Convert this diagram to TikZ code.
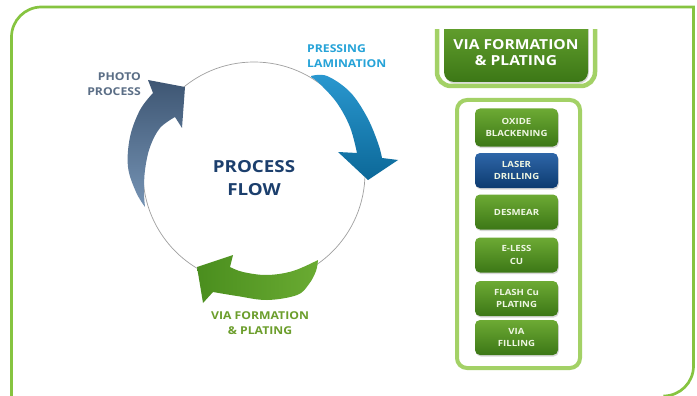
\documentclass[tikz,border=0pt]{standalone}
\usepackage{fontspec}
\setmainfont{Open Sans}[FakeStretch=1.13]
\usetikzlibrary{shadows}
\definecolor{framegreen}{HTML}{86C440}
\definecolor{panelgreen}{HTML}{A3D166}
\definecolor{boxtop}{HTML}{6DAA34}
\definecolor{boxbot}{HTML}{3C7716}
\definecolor{bluetop}{HTML}{2E66A8}
\definecolor{bluebot}{HTML}{0D3B70}
\definecolor{boxtext}{HTML}{EEF6E2}
\definecolor{navy}{HTML}{1C3F6D}
\definecolor{photocol}{HTML}{5B6E86}
\definecolor{presscol}{HTML}{26A3D8}
\definecolor{viacol}{HTML}{6C9E2C}
\definecolor{photoA}{HTML}{3E5673}
\definecolor{photoB}{HTML}{7593B4}
\definecolor{pressA}{HTML}{2A98D0}
\definecolor{pressB}{HTML}{0C6898}
\definecolor{greenA}{HTML}{4A8E1E}
\definecolor{greenB}{HTML}{6AAB32}
\tikzset{
  gbox/.style={rounded corners=5pt, minimum width=83pt, minimum height=35pt,
    top color=boxtop, bottom color=boxbot, text=boxtext, align=center, inner sep=0pt,
    font=\bfseries\fontsize{8.5}{12.5}\selectfont,
    drop shadow={opacity=0.3, shadow xshift=0.8pt, shadow yshift=-1.5pt}},
  bbox/.style={gbox, top color=bluetop, bottom color=bluebot},
  cyclelabel/.style={font=\bfseries\fontsize{10.8}{15}\selectfont, inner sep=0pt},
}
\begin{document}
\begin{tikzpicture}[x=1pt,y=-1pt]
\useasboundingbox (0,0) rectangle (697,396);
\fill[white] (0,0) rectangle (697,396);
% outer frame
\draw[framegreen, line width=2.7pt] (11.5,400) -- (11.5,37)
  arc[start angle=180, end angle=270, radius=30] -- (693.5,7) -- (693.5,366)
  arc[start angle=0, end angle=90, radius=30];
% circle
\node[circle, draw=gray!75, line width=0.7pt, fill=white, minimum size=222pt, inner sep=0pt] (cyc) at (254,173) {};
\node[font=\bfseries\fontsize{16.6}{23}\selectfont, text=navy, align=center, inner sep=0pt] (pf) at (254,178) {PROCESS\\FLOW};
% photo arrow
\shade[top color=photoA, bottom color=photoB]
  plot[smooth, tension=0.6] coordinates {(145,207) (136,192) (128,167) (130,137) (140,110) (153,93)}
  -- (148,80) -- (185,87) -- (182,128) -- (175,117)
  -- plot[smooth, tension=0.6] coordinates {(175,117) (160,128) (150,147) (145,170) (144,192) (145,207)} -- cycle;
% pressing arrow
\shade[top color=pressA, bottom color=pressB]
  plot[smooth, tension=0.6] coordinates {(311,76) (327,76) (350,92) (367,117) (378,143) (382,158)}
  -- (398,160) -- (368,180) -- (338,152) -- (357,153)
  -- plot[smooth, tension=0.6] coordinates {(357,153) (350,127) (337,103) (320,84) (311,77)} -- cycle;
% via arrow
\shade[left color=greenA, right color=greenB]
  plot[smooth, tension=0.6] coordinates {(318,260) (316,271) (309,284) (297,295) (267,300) (237,296) (213,292)}
  -- (203,303) -- (197,267) -- (233,255) -- (230,267)
  -- plot[smooth, tension=0.6] coordinates {(230,267) (243,272) (267,275) (293,271) (318,260)} -- cycle;
% labels
\node[cyclelabel, text=photocol, align=right, anchor=east] (lphoto) at (141,84.5) {PHOTO\\PROCESS};
\node[cyclelabel, text=presscol, align=left, anchor=west] (lpress) at (307,56.5) {PRESSING\\LAMINATION};
\node[cyclelabel, text=viacol, align=center] (lvia) at (260,323) {VIA FORMATION\\\&~PLATING};
% title panel
\begin{scope}
\clip (420,30) rectangle (697,100);
\draw[panelgreen, line width=4.5pt, rounded corners=14pt] (437,10) rectangle (595,86);
\shade[top color=boxtop, bottom color=boxbot, rounded corners=10pt, drop shadow={opacity=0.3, shadow xshift=0.8pt, shadow yshift=-1.5pt}] (444,10) rectangle (588,82);
\end{scope}
\node[font=\bfseries\fontsize{13.8}{16}\selectfont, text=white, align=center, inner sep=0pt] (title) at (516,53) {VIA FORMATION\\\&~PLATING};
% step panel
\draw[panelgreen, line width=4pt, rounded corners=10pt] (457,100) rectangle (580,368);
\node[gbox, minimum height=38pt] (s1) at (516.5,127.5) {OXIDE\\BLACKENING};
\node[bbox] (s2) at (516.5,170.5) {LASER\\DRILLING};
\node[gbox] (s3) at (516.5,212) {DESMEAR};
\node[gbox] (s4) at (516.5,255) {E-LESS\\CU};
\node[gbox] (s5) at (516.5,298.5) {FLASH Cu\\PLATING};
\node[gbox] (s6) at (516.5,337.5) {VIA\\FILLING};
\end{tikzpicture}
\end{document}
